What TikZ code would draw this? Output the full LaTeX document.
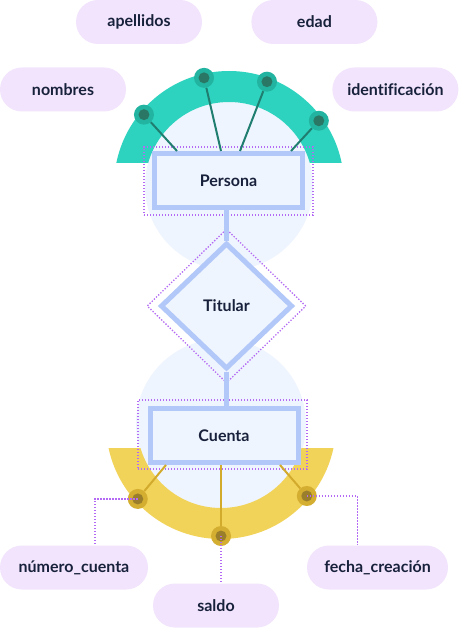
\documentclass[tikz,border=0pt]{standalone}
\usepackage{fontspec}
\setmainfont{Lato}[Ligatures=NoCommon]
\usetikzlibrary{shapes.geometric,positioning}

\definecolor{ringteal}{HTML}{2ED3BF}
\definecolor{dotteal}{HTML}{22B4A0}
\definecolor{coreteal}{HTML}{2B7766}
\definecolor{lineteal}{HTML}{1F7E70}
\definecolor{ringgold}{HTML}{F2D35A}
\definecolor{dotgold}{HTML}{D3AE30}
\definecolor{coregold}{HTML}{9A7E2C}
\definecolor{linegold}{HTML}{D2AA2C}
\definecolor{pale}{HTML}{EFF5FE}
\definecolor{edge}{HTML}{B2C8F8}
\definecolor{pill}{HTML}{F2E4FC}
\definecolor{guidevio}{HTML}{B46AF4}
\definecolor{ink}{HTML}{18213B}

\tikzset{
  label font/.style={font=\bfseries\fontsize{16}{19}\selectfont, text=ink},
  attr/.style={label font, fill=pill, rounded corners=22pt, minimum height=44pt, minimum width=126pt, inner sep=0pt},
  entity/.style={label font, draw=edge, line width=5pt, fill=pale, minimum width=148pt, minimum height=54pt, inner sep=0pt},
  rel/.style={label font, diamond, draw=edge, line width=5pt, fill=pale, minimum width=132pt, minimum height=126pt, inner sep=0pt},
  link/.style={draw=edge, line width=5pt},
  guide/.style={draw=guidevio, line width=1.3pt, dash pattern=on 1.3pt off 1.7pt},
  tdot/.style={circle, fill=dotteal, minimum size=20pt, inner sep=0pt,
    path picture={\fill[coreteal] (path picture bounding box.center) circle (5.5pt);}},
  gdot/.style={circle, fill=dotgold, minimum size=20pt, inner sep=0pt,
    path picture={\fill[coregold] (path picture bounding box.center) circle (5.5pt);}},
}

\begin{document}
\begin{tikzpicture}[x=1pt,y=1pt]
  \useasboundingbox[fill=white] (0,0) rectangle (458,-628);
  \coordinate (top) at (229,-186);
  \coordinate (bot) at (221,-424);

  % discs and rings
  \fill[pale] (top) circle (84);
  \fill[pale] (bot) circle (85);
  \begin{scope}
    \clip (0,0) rectangle (458,-163);
    \fill[ringteal, even odd rule] (top) circle (115) circle (84);
  \end{scope}
  \begin{scope}
    \clip (0,-448) rectangle (458,-628);
    \fill[ringgold, even odd rule] (bot) circle (115) circle (84);
  \end{scope}

  % entities and relation
  \node[guide, minimum width=169pt, minimum height=68pt] (persona box) at (228.5,-181) {};
  \node[guide, minimum width=169pt, minimum height=69pt] (cuenta box) at (222.5,-434.5) {};
  \node[diamond, guide, minimum width=159pt, minimum height=154pt, inner sep=0pt] (titular box) at (226.5,-306) {};
  \node[entity] (persona) at (228.5,-180.5) {Persona};
  \node[rel] (titular) at (226.5,-306) {Titular};
  \node[entity] (cuenta) at (224,-435.5) {Cuenta};
  \draw[link] (persona.south -| titular.north) -- (titular.north);
  \draw[link] (titular.south) -- (titular.south |- cuenta.north);

  % attribute dots
  \node[tdot] (t1) at ([shift={(140:111)}]top) {};
  \node[tdot] (t2) at ([shift={(103:111)}]top) {};
  \node[tdot] (t3) at ([shift={(70:111)}]top) {};
  \node[tdot] (t4) at ([shift={(36:111)}]top) {};
  \node[gdot] (g1) at ([shift={(-138:112)}]bot) {};
  \node[gdot] (g2) at ([shift={(-90:112)}]bot) {};
  \node[gdot] (g3) at ([shift={(-40:112)}]bot) {};

  \coordinate (p1) at (177,-151);
  \coordinate (p2) at (221,-151);
  \coordinate (p3) at (240,-151);
  \coordinate (p4) at (291,-151);
  \coordinate (c1) at (166,-465);
  \coordinate (c3) at (280,-465);
  \draw[lineteal, line width=2pt] (t1) -- (p1);
  \draw[lineteal, line width=2pt] (t2) -- (p2);
  \draw[lineteal, line width=2pt] (t3) -- (p3);
  \draw[lineteal, line width=2pt] (t4) -- (p4);
  \draw[linegold, line width=2pt] (g1) -- (c1);
  \draw[linegold, line width=2pt] (g2) -- (g2 |- cuenta.south);
  \draw[linegold, line width=2pt] (g3) -- (c3);

  % attributes
  \node[attr] (apellidos) at (139,-22) {apellidos};
  \node[attr, right=49pt of apellidos] (edad) {edad};
  \node[attr] (nombres) at (63,-89.5) {nombres};
  \node[attr, right=206pt of nombres] (identificacion) {identificación};
  \node[attr, minimum width=148pt] (numero) at (74,-567.5) {número\_cuenta};
  \node[attr] (saldo) at (216,-605.5) {saldo};
  \node[attr, minimum width=141pt] (fecha) at (377.5,-567.5) {fecha\_creación};

  \draw[guide] (g1.center) -| ([xshift=21pt]numero.north);
  \draw[guide] (g2.center) -- (g2 |- saldo.north);
  \draw[guide] (g3.center) -| ([xshift=-20pt]fecha.north);
\end{tikzpicture}
\end{document}
